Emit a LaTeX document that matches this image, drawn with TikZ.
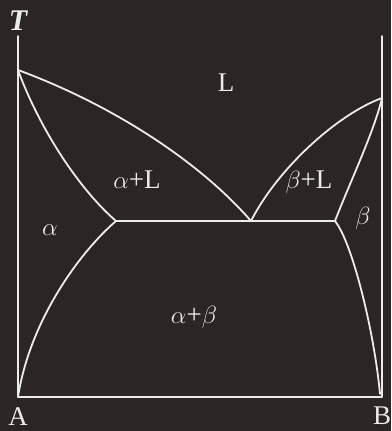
\documentclass[tikz,border=0pt]{standalone}
\usepackage{fontspec}
\setmainfont{Liberation Serif}
\definecolor{bgc}{RGB}{43,38,36}
\definecolor{lnc}{RGB}{236,236,236}
\begin{document}
\begin{tikzpicture}[x=1pt,y=-1pt,
  phase/.style={draw=lnc,line width=1.8pt,line cap=round,line join=round},
  lbl/.style={text=lnc,font=\fontsize{27}{31}\selectfont,inner sep=0pt,anchor=center}]
\fill[bgc] (0,0) rectangle (391,431);
\useasboundingbox (0,0) rectangle (391,431);
% key points
\coordinate (Ltop) at (18,36);
\coordinate (Rtop) at (382,36);
\coordinate (A0) at (18,397);
\coordinate (B0) at (382,397);
\coordinate (TA) at (18,70);
\coordinate (TB) at (382,98);
\coordinate (E) at (251,221);
\coordinate (Ea) at (116,221);
\coordinate (Eb) at (335,221);
\coordinate (Sb) at (380,394);
% axes
\draw[phase] (Ltop) -- (A0) -- (B0) -- (Rtop);
% left liquidus
\draw[phase] (TA) .. controls (110,104) and (198,160) .. (E);
% left solidus
\draw[phase] (TA) .. controls (40,130) and (80,190) .. (Ea);
% left solvus
\draw[phase] (Ea) .. controls (80,252) and (30,320) .. (A0);
% right liquidus
\draw[phase] (TB) .. controls (338,114) and (278,168) .. (E);
% right solidus
\draw[phase] (TB) .. controls (374,132) and (350,182) .. (Eb);
% right solvus
\draw[phase] (Eb) .. controls (352,242) and (374,330) .. (Sb);
% eutectic line
\draw[phase] (Ea) -- (Eb);
% labels
\node[lbl,font=\fontsize{30}{34}\selectfont\bfseries\itshape] (T) at (18,21) {T};
\node[lbl] (L) at (226,83) {L};
\node[lbl] (aL) at (137,180) {$\alpha$+L};
\node[lbl] (bL) at (309,182) {$\beta$+L};
\node[lbl] (a) at (50,230) {$\alpha$};
\node[lbl] (b) at (363,218) {$\beta$};
\node[lbl] (ab) at (194,317) {$\alpha$+$\beta$};
\node[lbl] (A) at (18,417) {A};
\node[lbl] (B) at (382,416) {B};
\end{tikzpicture}
\end{document}
